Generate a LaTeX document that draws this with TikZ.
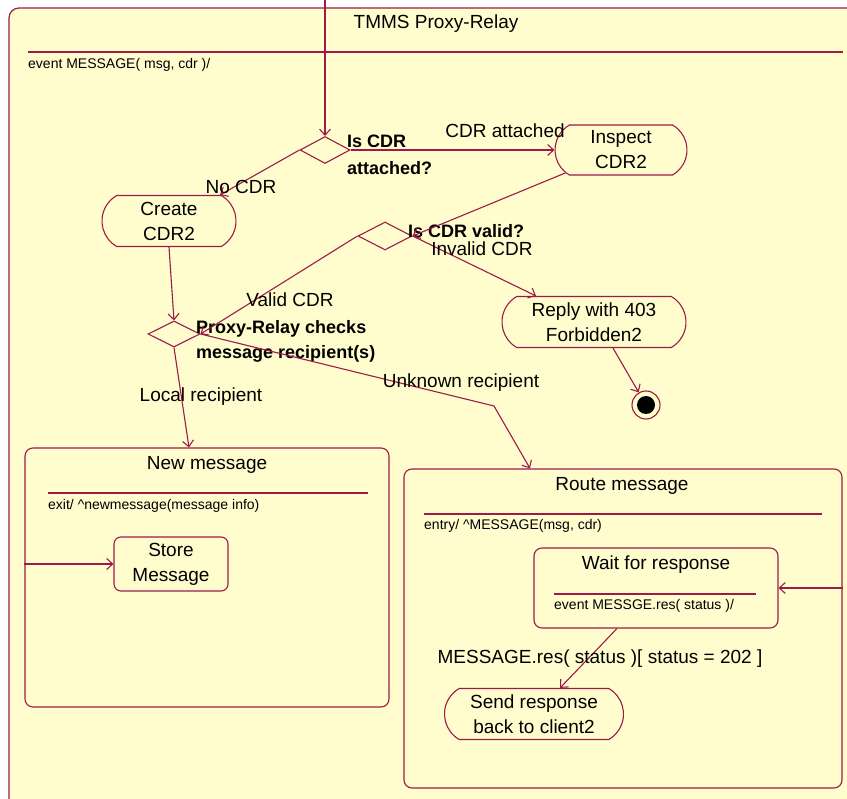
\documentclass[tikz,border=0pt]{standalone}
\usepackage{fontspec}
\setmainfont{Liberation Sans}
\usetikzlibrary{positioning, shapes.geometric, shapes.misc, arrows.meta, calc}

\definecolor{umlred}{RGB}{158,26,72}
\definecolor{umlfill}{RGB}{255,253,206}

\begin{document}
\begin{tikzpicture}[x=1pt, y=-1pt,
    frame/.style={draw=umlred, fill=umlfill, line width=1.2pt, rounded corners=10pt},
    actbox/.style={rounded rectangle, rounded rectangle arc length=120, draw=umlred, fill=umlfill, line width=1.1pt, minimum height=51pt, inner sep=0pt, align=center, font=\fontsize{19}{25}\selectfont},
    statebox/.style={rectangle, draw=umlred, fill=umlfill, line width=1.1pt, rounded corners=8pt, inner sep=0pt, align=center, font=\fontsize{19}{25}\selectfont},
    choice/.style={diamond, draw=umlred, fill=umlfill, line width=1.1pt, inner sep=0pt},
    arrow/.style={-{Straight Barb[length=6pt, width=11pt]}, line width=1.1pt, draw=umlred},
    sepline/.style={line width=1.1pt, draw=umlred},
    lbl/.style={font=\fontsize{19}{25}\selectfont, inner sep=0pt},
    guard/.style={font=\bfseries\fontsize{18}{25}\selectfont, align=left, inner sep=0pt},
    small/.style={font=\fontsize{14}{16}\selectfont, inner sep=0pt}
]

    \useasboundingbox (0,0) rectangle (847,799);
    \clip (0,0) rectangle (847,799);

    % ================= OUTER STATE: TMMS PROXY-RELAY =================
    \draw[frame] (9,8) rectangle (890,840);
    \node[lbl] (frameTitle) at (436,24) {TMMS Proxy-Relay};
    \draw[sepline] (28,52) -- (843,52);
    \node[small, anchor=west] (frameEvent) at (28,65) {event MESSAGE( msg, cdr )/};

    \coordinate (entryTop) at (325,0);

    % ================= COMPOSITE STATES =================

    % New message
    \node[statebox, minimum width=364pt, minimum height=259pt] (newMsg) at (207,577.5) {};
    \node[lbl] (newMsgTitle) at (207,465) {New message};
    \draw[sepline] (48,493) -- (368,493);
    \node[small, anchor=west] (newMsgExit) at (48,506) {exit/ \textasciicircum newmessage(message info)};
    \node[statebox, minimum width=114pt, minimum height=54pt, rounded corners=7pt] (storeMsg) at (171,564) {Store\\Message};

    % Route message
    \node[statebox, minimum width=438pt, minimum height=319pt] (routeMsg) at (623,628.5) {};
    \node[lbl] (routeMsgTitle) at (622,486) {Route message};
    \draw[sepline] (424,514) -- (822,514);
    \node[small, anchor=west] (routeMsgEntry) at (424,526) {entry/ \textasciicircum MESSAGE(msg, cdr)};

    % Wait for response
    \node[statebox, minimum width=244pt, minimum height=80pt] (waitResp) at (656,588) {};
    \node[lbl] (waitRespTitle) at (656,565) {Wait for response};
    \draw[sepline] (554,594) -- (756,594);
    \node[small, anchor=west] (waitRespEvent) at (554,606) {event MESSGE.res( status )/};

    % ================= ACTIVITIES AND DECISIONS =================
    \node[choice, minimum width=50pt, minimum height=27pt] (attachedChk) at (325,150) {};
    \node[choice, minimum width=54pt, minimum height=28pt] (validChk) at (385,236) {};
    \node[choice, minimum width=52pt, minimum height=26pt] (recipChk) at (174,334) {};

    \node[actbox, minimum width=132pt, minimum height=50pt] (inspectCdr) at (621,150) {Inspect\\CDR2};
    \node[actbox, minimum width=134pt] (createCdr) at (169,221) {Create\\CDR2};
    \node[actbox, minimum width=184pt] (replyForbid) at (594,322) {Reply with 403\\Forbidden2};
    \node[actbox, minimum width=179pt] (sendResp) at (534,714) {Send response\\back to client2};

    % Final state
    \node[circle, draw=umlred, fill=umlfill, line width=1.1pt, minimum size=28pt, inner sep=0pt] (finalState) at (646,405) {};
    \node[circle, fill=black, minimum size=18pt, inner sep=0pt] (finalDot) at (finalState) {};

    % ================= GUARD TEXTS =================
    \node[guard, anchor=west] (attachedLbl) at (347,155) {Is CDR\\[2pt]attached?};
    \node[guard, anchor=west] (validLbl) at (408,231) {Is CDR valid?};
    \node[guard, anchor=west] (recipLbl) at (196,341) {Proxy-Relay checks\\message recipient(s)};

    % ================= DRAW CONNECTIONS =================
    \draw[arrow] (entryTop) -- (attachedChk.north);

    \draw[arrow] (attachedChk.east) -- (inspectCdr.west);
    \node[lbl] (cdrAttachedLbl) at (505,131) {CDR attached};

    \draw[arrow] (attachedChk.west) -- ($(createCdr.north)+(51,0)$);
    \node[lbl] (noCdrLbl) at (241,187) {No CDR};

    \draw[arrow] (inspectCdr) -- (validChk.east);

    \draw[arrow] (validChk.east) -- ($(replyForbid.north)+(-58,0)$);
    \node[lbl] (invalidLbl) at (482,249) {Invalid CDR};

    \draw[arrow] (validChk.west) -- (recipChk.east);
    \node[lbl] (validCdrLbl) at (290,300) {Valid CDR};

    \draw[arrow] (createCdr.south) -- (recipChk.north);

    \draw[arrow] ($(replyForbid.south)+(19,0)$) -- (finalState);

    \draw[arrow] (recipChk.south) -- ($(newMsg.north)+(-18,0)$);
    \node[lbl] (localLbl) at (201,397) {Local recipient};

    \coordinate (unknownBend) at (494,406);
    \draw[arrow] (recipChk.east) -- (unknownBend) -- ($(routeMsg.north)+(-93,0)$);
    \node[lbl] (unknownLbl) at (461,383) {Unknown recipient};

    % Entry transitions into the nested states
    \draw[arrow] (newMsg.west |- storeMsg.west) -- (storeMsg.west);
    \draw[arrow] (routeMsg.east |- waitResp.east) -- (waitResp.east);

    \draw[arrow] ($(waitResp.south)+(-39,0)$) -- ($(sendResp.north)+(26,0)$);
    \node[lbl] (statusLbl) at (600,659) {MESSAGE.res( status )[ status = 202 ]};

\end{tikzpicture}
\end{document}
